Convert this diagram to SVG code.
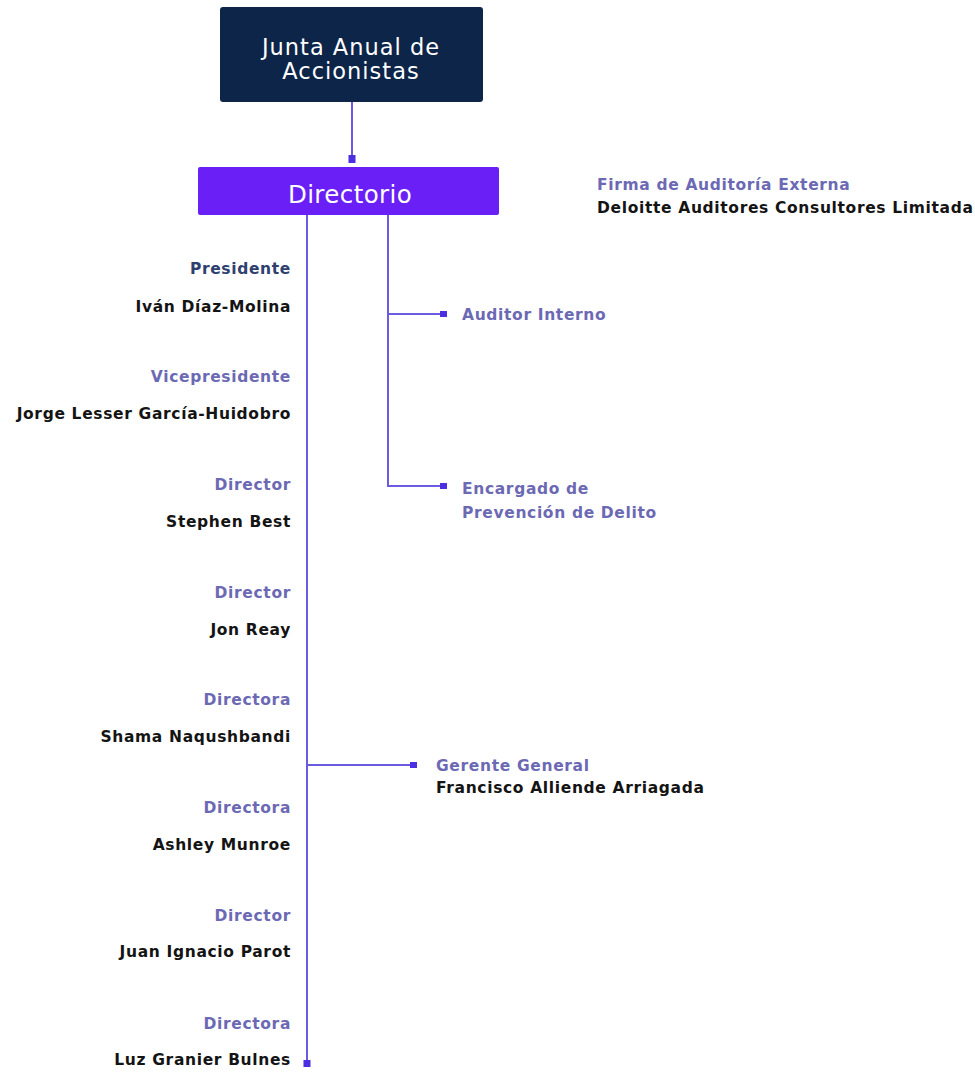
<svg xmlns="http://www.w3.org/2000/svg" width="975" height="1072" viewBox="0 0 975 1072">
<style>
.role{font-family:"DejaVu Sans",Verdana,sans-serif;font-weight:bold;font-size:15.5px;letter-spacing:0.65px;fill:#6c69b4}
.name{font-family:"DejaVu Sans",Verdana,sans-serif;font-weight:bold;font-size:15.5px;letter-spacing:0.65px;fill:#141414}
.box{font-family:"DejaVu Sans",Verdana,sans-serif;fill:#ffffff;text-anchor:middle}
.ln{stroke:#6a5be0;stroke-width:2;fill:none}
.sq{fill:#4b2fe0}
.r{text-anchor:end}
</style>
<rect width="975" height="1072" fill="#ffffff"/>
<g id="connectors">
<line class="ln" x1="352" y1="102" x2="352" y2="158"/>
<rect class="sq" x="348.5" y="155" width="7" height="8"/>
<line class="ln" x1="307" y1="215" x2="307" y2="1063"/>
<rect class="sq" x="303.5" y="1060" width="7" height="7"/>
<line class="ln" x1="388" y1="215" x2="388" y2="487"/>
<line class="ln" x1="388" y1="314" x2="442" y2="314"/>
<rect class="sq" x="440" y="311" width="7" height="6"/>
<line class="ln" x1="388" y1="486" x2="442" y2="486"/>
<rect class="sq" x="440" y="483" width="7" height="6"/>
<line class="ln" x1="307" y1="765" x2="412" y2="765"/>
<rect class="sq" x="410" y="762" width="7" height="6"/>
</g>
<g id="junta">
<rect x="220" y="7" width="263" height="95" rx="3" fill="#0c2549"/>
<text class="box" x="351" y="55" font-size="22.5" letter-spacing="1">Junta Anual de</text>
<text class="box" x="351" y="79" font-size="22.5" letter-spacing="1">Accionistas</text>
</g>
<g id="directorio">
<rect x="198" y="167" width="301" height="48" rx="2" fill="#6a1ff6"/>
<text class="box" x="350" y="203" font-size="24.5" letter-spacing="0.4">Directorio</text>
</g>
<g id="auditoria-externa">
<text class="role" x="597" y="190">Firma de Auditoría Externa</text>
<text class="name" x="597" y="213">Deloitte Auditores Consultores Limitada</text>
</g>
<g id="auditor-interno">
<text class="role" x="462" y="320">Auditor Interno</text>
</g>
<g id="encargado">
<text class="role" x="462" y="494">Encargado de</text>
<text class="role" x="462" y="518">Prevención de Delito</text>
</g>
<g id="gerente">
<text class="role" x="436" y="771">Gerente General</text>
<text class="name" x="436" y="793">Francisco Alliende Arriagada</text>
</g>
<g id="presidente">
<text class="role r" x="291" y="274" style="fill:#2f3f6e">Presidente</text>
<text class="name r" x="291" y="312">Iván Díaz-Molina</text>
</g>
<g id="vicepresidente">
<text class="role r" x="291" y="382">Vicepresidente</text>
<text class="name r" x="291" y="419">Jorge Lesser García-Huidobro</text>
</g>
<g id="director-best">
<text class="role r" x="291" y="490">Director</text>
<text class="name r" x="291" y="527">Stephen Best</text>
</g>
<g id="director-reay">
<text class="role r" x="291" y="598">Director</text>
<text class="name r" x="291" y="635">Jon Reay</text>
</g>
<g id="directora-naqushbandi">
<text class="role r" x="291" y="705">Directora</text>
<text class="name r" x="291" y="742">Shama Naqushbandi</text>
</g>
<g id="directora-munroe">
<text class="role r" x="291" y="813">Directora</text>
<text class="name r" x="291" y="850">Ashley Munroe</text>
</g>
<g id="director-parot">
<text class="role r" x="291" y="921">Director</text>
<text class="name r" x="291" y="957">Juan Ignacio Parot</text>
</g>
<g id="directora-granier">
<text class="role r" x="291" y="1029">Directora</text>
<text class="name r" x="291" y="1065">Luz Granier Bulnes</text>
</g>
</svg>
